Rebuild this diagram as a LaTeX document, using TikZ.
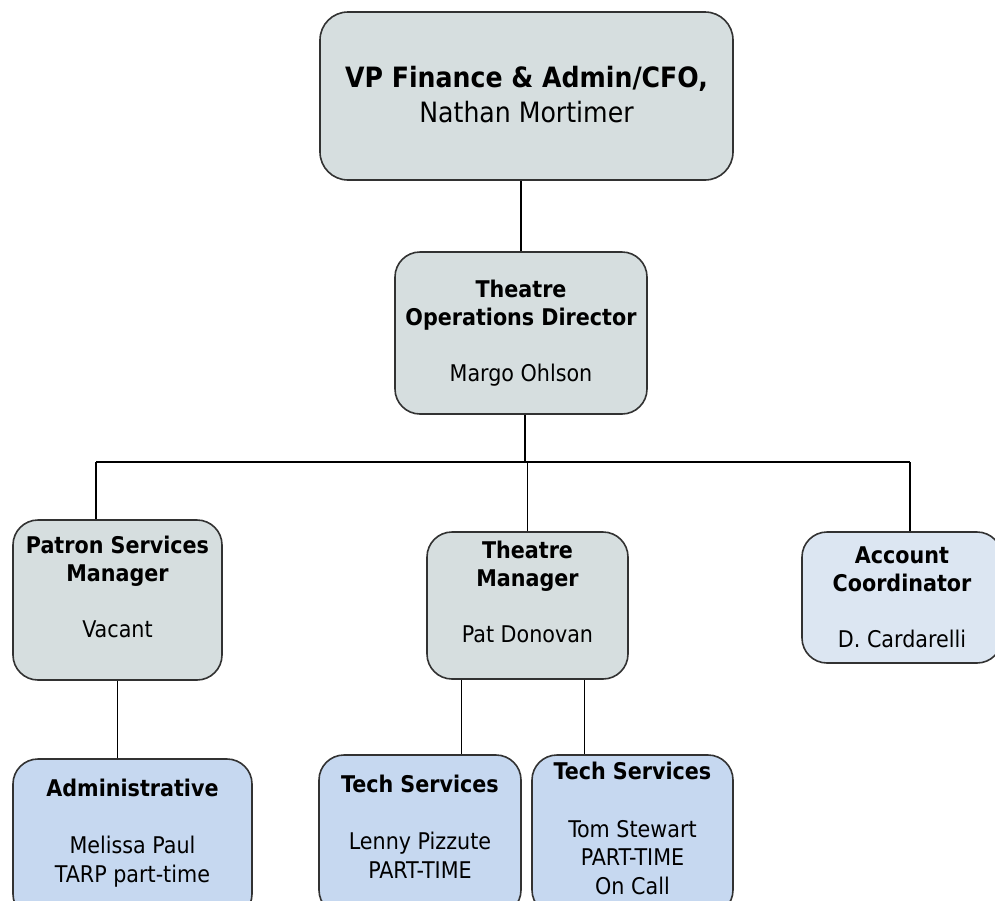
\documentclass[tikz,border=0pt]{standalone}
\usepackage{fontspec}
\setmainfont{DejaVu Sans Condensed}
\definecolor{boxgrey}{RGB}{214,222,223}
\definecolor{boxpale}{RGB}{220,230,242}
\definecolor{boxblue}{RGB}{198,216,240}
\definecolor{edge}{RGB}{50,50,50}
\tikzset{
	box/.style={draw=edge,line width=1.6pt,rounded corners=25pt,inner sep=0pt},
	title/.style={anchor=base,align=center,inner sep=0pt,font=\fontsize{23}{28.5}\selectfont},
	link/.style={draw=black,line width=1.5pt},
}
\begin{document}
\begin{tikzpicture}[x=1pt,y=-1pt]
	\path[use as bounding box,fill=white](0,0)rectangle(995,900);
	\clip(0,0)rectangle(995,900);
	\node(vp)[box,fill=boxgrey,rounded corners=28pt,minimum width=413pt,minimum height=168pt]at(526.5,96){};
	\node(tod)[box,fill=boxgrey,minimum width=252pt,minimum height=162pt]at(521,333){};
	\node(psm)[box,fill=boxgrey,minimum width=209pt,minimum height=160pt]at(117.5,600){};
	\node(tm)[box,fill=boxgrey,minimum width=201pt,minimum height=147pt]at(527.5,605.5){};
	\node(acc)[box,fill=boxpale,minimum width=200pt,minimum height=131pt]at(902,597.5){};
	\node(adm)[box,fill=boxblue,minimum width=239pt,minimum height=160pt]at(132.5,839){};
	\node(ts1)[box,fill=boxblue,minimum width=202pt,minimum height=160pt]at(420,835){};
	\node(ts2)[box,fill=boxblue,minimum width=201pt,minimum height=160pt]at(632.5,835){};
	% text anchored on its last baseline
	\node(vpt)[title,font=\fontsize{28}{35}\selectfont]at([yshift=-111pt]vp.north){\textbf{VP Finance \& Admin/CFO,}\\Nathan Mortimer};
	\node(todt)[title]at([yshift=-130pt]tod.north){\textbf{Theatre}\\\textbf{Operations Director}\\[27pt]Margo Ohlson};
	\node(psmt)[title]at([yshift=-118pt]psm.north){\textbf{Patron Services}\\\textbf{Manager}\\[27pt]Vacant};
	\node(tmt)[title]at([yshift=-111pt]tm.north){\textbf{Theatre}\\\textbf{Manager}\\[27pt]Pat Donovan};
	\node(acct)[title]at([yshift=-116pt]acc.north){\textbf{Account}\\\textbf{Coordinator}\\[27pt]D. Cardarelli};
	\node(admt)[title]at([yshift=-124pt]adm.north){\textbf{Administrative}\\[29pt]Melissa Paul\\TARP part-time};
	\node(ts1t)[title]at([yshift=-124pt]ts1.north){\textbf{Tech Services}\\[29pt]Lenny Pizzute\\PART-TIME};
	\node(ts2t)[title]at([yshift=-140pt]ts2.north){\textbf{Tech Services}\\[29pt]Tom Stewart\\PART-TIME\\On Call};
	\coordinate(barl)at(96,462);
	\coordinate(barr)at(910,462);
	\draw[link](tod.north)--(tod.north|-vp.south);
	\draw[link]([xshift=4pt]tod.south)coordinate(todb)--(todb|-barl);
	\draw[link](barl)--(barr);
	\draw[link](barl)--(barl|-psm.north);
	\draw[link](tm.north)--(tm.north|-barl);
	\draw[link](barr)--(barr|-acc.north);
	\draw[link](psm.south)--(psm.south|-adm.north);
	\draw[link]([xshift=-66pt]tm.south)coordinate(tml)--(tml|-ts1.north);
	\draw[link]([xshift=57pt]tm.south)coordinate(tmr)--(tmr|-ts2.north);
\end{tikzpicture}
\end{document}
